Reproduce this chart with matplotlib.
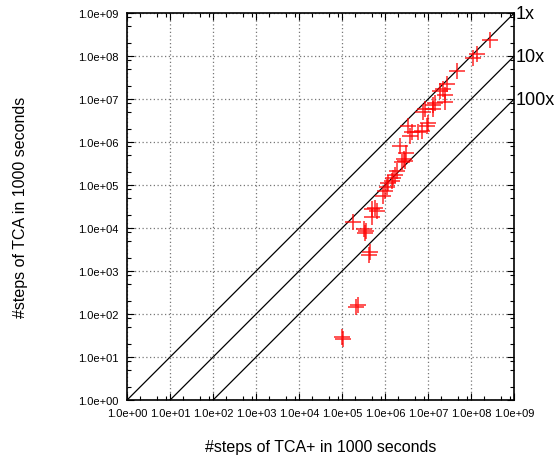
import matplotlib
matplotlib.use("Agg")
import matplotlib.pyplot as plt
import numpy as np
from matplotlib.ticker import LogLocator, FuncFormatter, NullFormatter

plt.rcParams["font.family"] = ["Liberation Sans", "DejaVu Sans"]

# steps of TCA+ (x) vs steps of TCA (y) in 1000 seconds
tca_plus = [9.8e4, 1.07e5, 2.4e5, 2.1e5, 4.3e5, 4.5e5, 3.2e5, 3.7e5, 3.4e5, 1.8e5,
            5.1e5, 5.8e5, 4.9e5, 6.6e5, 9.1e5, 1.0e6, 1.1e6, 1.17e6, 1.45e6, 1.55e6,
            1.7e6, 1.86e6, 2.45e6, 2.7e6, 2.95e6, 2.24e6, 3.16e6, 3.8e6, 3.47e6, 4.2e6,
            6.0e6, 7.1e6, 9.3e6, 1.02e7, 7.8e6, 8.5e6, 1.32e7, 1.32e7, 1.45e7, 2.5e7,
            1.9e7, 2.24e7, 2.7e7, 2.45e7, 4.7e7, 1.12e8, 1.35e8, 2.75e8]
tca = [29, 26, 166, 145, 2340, 2800, 9800, 8700, 7900, 14000,
       27500, 29000, 18600, 25000, 56000, 74000, 93000, 115000, 126000, 151000,
       174000, 214000, 339000, 398000, 363000, 813000, 575000, 1.41e6, 2.4e6, 1.7e6,
       1.7e6, 1.8e6, 2.4e6, 2.75e6, 5.0e6, 5.9e6, 5.9e6, 7.2e6, 8.3e6, 8.7e6,
       1.55e7, 1.7e7, 2.24e7, 1.23e7, 4.6e7, 8.9e7, 1.12e8, 2.34e8]

ratios = [1, 10, 100]
ratio_labels = ["1x", "10x", "100x"]

LO, HI = 1.0, 1.0e9

fig = plt.figure(figsize=(5.56, 4.60), dpi=100)
ax = fig.add_axes([0.2284, 0.128, 0.696, 0.841])

ax.set_xscale("log")
ax.set_yscale("log")
ax.set_xlim(LO, HI)
ax.set_ylim(LO, HI)

# speed-up reference lines
xs = np.array([LO, HI])
for r, lab in zip(ratios, ratio_labels):
    ax.plot(xs, xs / r, color="black", linewidth=0.9, zorder=2)
    ax.text(1.003, np.log10(HI / r) / 9.0, lab, transform=ax.transAxes,
            fontsize=13, ha="left", va="center", color="black")

ax.plot(tca_plus, tca, linestyle="none", marker="+", markersize=11,
        markeredgewidth=1.1, color="#ff0000", alpha=0.85, zorder=3)

ax.grid(True, which="major", color="#777777", linestyle=(0, (1, 2)), linewidth=0.9)
ax.set_axisbelow(True)

fmt = FuncFormatter(lambda v, p: f"{v:.1e}")
for axis in (ax.xaxis, ax.yaxis):
    axis.set_major_locator(LogLocator(base=10, numticks=20))
    axis.set_minor_locator(LogLocator(base=10, subs=(2, 5, 8), numticks=20))
    axis.set_major_formatter(fmt)
    axis.set_minor_formatter(NullFormatter())

ax.tick_params(which="both", direction="in", top=True, right=True, labelsize=8)
ax.tick_params(which="major", length=5, width=0.8, pad=6)
ax.tick_params(which="minor", length=3, width=0.8)
for s in ax.spines.values():
    s.set_linewidth(1.2)

ax.set_xlabel("#steps of TCA+ in 1000 seconds", fontsize=11.5, labelpad=15)
ax.set_ylabel("#steps of TCA in 1000 seconds", fontsize=11.5, labelpad=36)

fig.savefig("out.png", dpi=100)
